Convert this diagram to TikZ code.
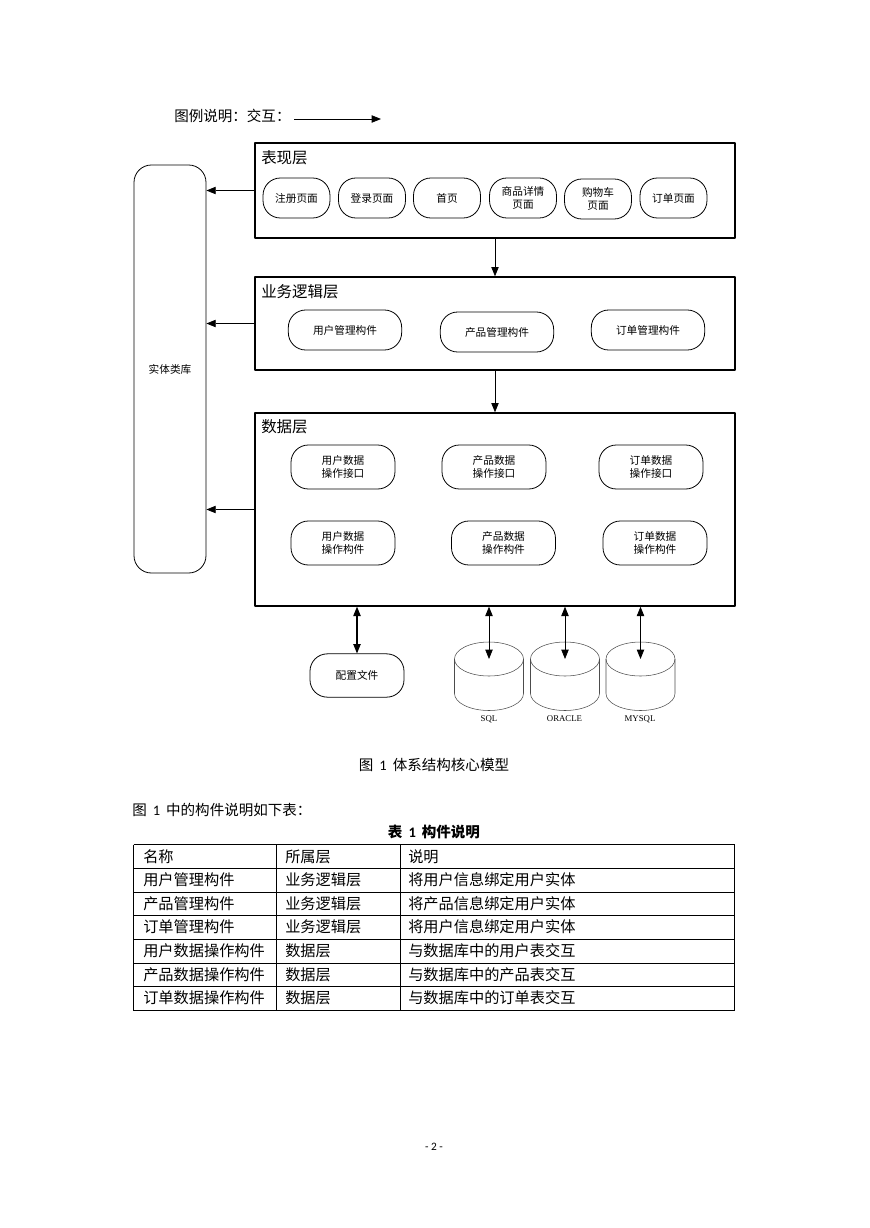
\documentclass[tikz,border=0pt]{standalone}
\usepackage{fontspec}
\setmainfont{Noto Sans CJK SC}
\newfontfamily\latinfont{Liberation Serif}
\newfontfamily\pagefont{Carlito}
\usetikzlibrary{arrows.meta}
\newcommand{\fignum}{\hspace{4.5pt}{\pagefont 1}\hspace{4.5pt}}
\tikzset{
	layerbox/.style={draw, line width=1pt, minimum width=360pt},
	pill/.style={draw, line width=0.6pt, rounded corners=13pt, align=center, inner sep=0pt, font=\fontsize{8}{9.6}\selectfont},
	pagepill/.style={pill, minimum width=50.2pt, minimum height=30pt},
	logicpill/.style={pill, minimum width=85pt, minimum height=30pt},
	datapill/.style={pill, minimum width=78pt, minimum height=33pt},
	layertitle/.style={anchor=west, inner sep=0pt, font=\fontsize{11.6}{13}\selectfont},
	bodytext/.style={anchor=west, inner sep=0pt, font=\fontsize{10.9}{12}\selectfont},
	celltext/.style={anchor=west, inner sep=0pt, font=\fontsize{11.4}{13}\selectfont},
	dbtext/.style={inner sep=0pt, font=\latinfont\fontsize{6.6}{8}\selectfont},
	dbcyl/.pic={
		\draw[black!70, line width=0.4pt] (0,-17.5) ellipse [x radius=34.5, y radius=17];
		\draw[black!70, line width=0.4pt] (-34.5,-17.5)--(-34.5,17) arc [start angle=180, end angle=0, x radius=34.5, y radius=17]--(34.5,-17.5);
		\coordinate (-in) at (0,-17.5);
	},
}
\begin{document}
\begin{tikzpicture}[x=0.75pt, y=-0.75pt, line join=round, >={Triangle[length=7pt,width=5.5pt]}]
	\useasboundingbox (0,0) rectangle (869,1228);
	% legend
	\node[bodytext] (legend) at (174,116) {图例说明：交互：};
	\coordinate (legendend) at (381,119);
	\draw[->, line width=0.6pt] (294,119)--(legendend);
	% layers
	\node[layerbox, minimum height=71.25pt] (pres) at (495,190.5) {};
	\node[layerbox, minimum height=69.75pt] (logic) at (495,323.5) {};
	\node[layerbox, minimum height=144.75pt] (data) at (495,509.5) {};
	\node[layertitle] (prestitle) at (261,158) {表现层};
	\node[layertitle] (logictitle) at (261,292) {业务逻辑层};
	\node[layertitle] (datatitle) at (261,427) {数据层};
	% entity library
	\node[pill, minimum width=54pt, minimum height=306pt] (lib) at (170,369) {实体类库};
	% pages
	\node[pagepill] (regpage) at (296.5,198) {注册页面};
	\node[pagepill] (loginpage) at (372,198) {登录页面};
	\node[pagepill] (homepage) at (447,198) {首页};
	\node[pagepill] (itempage) at (523,198) {商品详情\\页面};
	\node[pagepill] (cartpage) at (598,199) {购物车\\页面};
	\node[pagepill] (orderpage) at (673.5,198) {订单页面};
	% logic components
	\node[logicpill] (usermgr) at (345,330) {用户管理构件};
	\node[logicpill] (prodmgr) at (497,332) {产品管理构件};
	\node[logicpill] (ordermgr) at (648,330) {订单管理构件};
	% data components
	\node[datapill] (userif) at (343,467) {用户数据\\操作接口};
	\node[datapill] (prodif) at (494,467) {产品数据\\操作接口};
	\node[datapill] (orderif) at (651,467) {订单数据\\操作接口};
	\node[datapill] (userop) at (343,543) {用户数据\\操作构件};
	\node[datapill] (prodop) at (503.5,543) {产品数据\\操作构件};
	\node[datapill] (orderop) at (655,543) {订单数据\\操作构件};
	% config and databases
	\node[pill, minimum width=70.5pt, minimum height=32.5pt] (conf) at (357,675.5) {配置文件};
	\pic (sql) at (489,676.5) {dbcyl};
	\pic (oracle) at (565,676.5) {dbcyl};
	\pic (mysql) at (640.5,676.5) {dbcyl};
	\node[dbtext] (sqltext) at (489,719) {SQL};
	\node[dbtext] (oracletext) at (564.5,719) {ORACLE};
	\node[dbtext] (mysqltext) at (640,719) {MYSQL};
	% connectors
	\draw[->, line width=0.6pt] (pres.south)--(logic.north);
	\draw[->, line width=0.6pt] (logic.south)--(data.north);
	\foreach \layer in {pres,logic,data}
		\draw[->, line width=0.6pt] (\layer.west)--(\layer.west -| lib.east);
	\draw[<->, line width=0.8pt] (data.south -| conf.north)--(conf.north);
	\foreach \db in {sql,oracle,mysql}
		\draw[<->, line width=0.6pt] (data.south -| \db-in)--(\db-in);
	% captions
	\node[bodytext, anchor=center] (figcap) at (434,765) {图\fignum 体系结构核心模型};
	\node[bodytext] (intro) at (132,810) {图\fignum 中的构件说明如下表：};
	\node[bodytext, anchor=center, font=\bfseries\fontsize{10.9}{12}\selectfont] (tabcap) at (434,832) {表\fignum 构件说明};
	% table
	\foreach \y in {844.5,868.5,892.5,915.5,939.5,963.5,986.5,1010.5} \draw[line width=0.7pt] (133.5,\y)--(734.5,\y);
	\foreach \x in {133.5,276.5,400.5,734.5} \draw[line width=0.7pt] (\x,844.5)--(\x,1010.5);
	\foreach \y/\a/\b/\c in {857/名称/所属层/说明,
		880/用户管理构件/业务逻辑层/将用户信息绑定用户实体,
		904/产品管理构件/业务逻辑层/将产品信息绑定用户实体,
		927/订单管理构件/业务逻辑层/将用户信息绑定用户实体,
		951/用户数据操作构件/数据层/与数据库中的用户表交互,
		975/产品数据操作构件/数据层/与数据库中的产品表交互,
		998/订单数据操作构件/数据层/与数据库中的订单表交互}{
		\node[celltext] at (143,\y) {\a};
		\node[celltext] at (285,\y) {\b};
		\node[celltext] at (408,\y) {\c};
	}
	\node[inner sep=0pt, font=\pagefont\fontsize{8.5}{10}\selectfont] (pagenum) at (434,1147) {- 2 -};
\end{tikzpicture}
\end{document}
